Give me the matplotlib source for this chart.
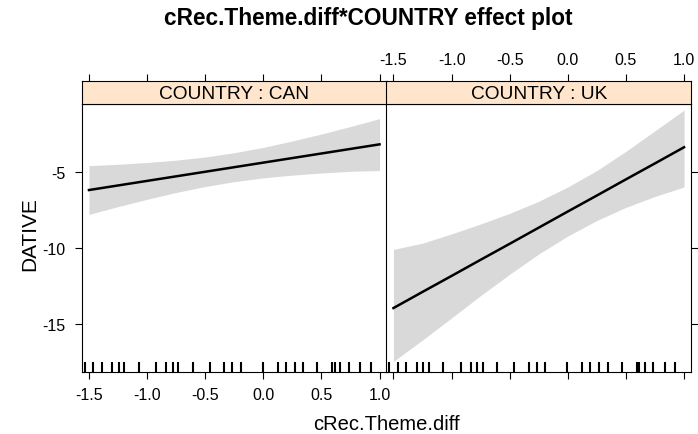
import numpy as np
import matplotlib.pyplot as plt

plt.rcParams['font.family'] = ['Liberation Sans', 'DejaVu Sans']
plt.rcParams['axes.unicode_minus'] = False

# effect estimates on the DATIVE scale, read at these predictor values
x_grid = [-1.5, -1.25, -1.0, -0.75, -0.5, -0.25, 0.0, 0.25, 0.5, 0.75, 1.0]

can_fit = [-6.2, -5.9, -5.6, -5.3, -5.0, -4.7, -4.4, -4.1, -3.8, -3.5, -3.2]
can_upper = [-4.60, -4.51, -4.39, -4.24, -4.03, -3.75, -3.40, -2.98, -2.52,
             -2.03, -1.51]
can_lower = [-7.80, -7.29, -6.81, -6.36, -5.97, -5.65, -5.40, -5.22, -5.08,
             -4.97, -4.92]

uk_fit = [-13.95, -12.89, -11.84, -10.78, -9.73, -8.67, -7.61, -6.56, -5.50,
          -4.45, -3.39]
uk_upper = [-10.10, -9.69, -9.08, -8.43, -7.73, -6.94, -6.00, -4.92, -3.66,
            -2.31, -0.95]
uk_lower = [-17.45, -16.05, -14.60, -13.13, -11.73, -10.40, -9.22, -8.20,
            -7.34, -6.62, -6.00]

# observed cRec.Theme.diff values (rug)
rug_x = [-1.537, -1.463, -1.388, -1.299, -1.244, -1.195, -1.072, -0.922,
         -0.836, -0.779, -0.733, -0.609, -0.460, -0.336, -0.267, -0.193,
         -0.003, 0.124, 0.195, 0.270, 0.342, 0.463, 0.592, 0.615, 0.661,
         0.736, 0.836, 0.925]

xticks = [-1.5, -1.0, -0.5, 0.0, 0.5, 1.0]
xticklabels = ['-1.5', '-1.0', '-0.5', '0.0', '0.5', '1.0']
yticks = [-15, -10, -5]
panels = [('COUNTRY : CAN', can_fit, can_upper, can_lower),
          ('COUNTRY : UK', uk_fit, uk_upper, uk_lower)]

W, H = 698, 435
fig = plt.figure(figsize=(W / 100, H / 100), dpi=100)

xlim = (-1.56, 1.06)
ylim = (-18.15, -0.55)
left0, width = 82, 304.5
bottom, top, strip_top = 373, 105, 82
tick_kw = dict(length=5, width=0.8, color='black', labelsize=11.5)

for i, (title, fit, upper, lower) in enumerate(panels):
    left = left0 + i * width
    ax = fig.add_axes([left / W, (H - bottom) / H, width / W, (bottom - top) / H])
    ax.fill_between(x_grid, lower, upper, color='#d9d9d9', lw=0)
    ax.plot(x_grid, fit, color='black', lw=1.8)
    ax.vlines(rug_x, 0, 0.038, transform=ax.get_xaxis_transform(),
              color='black', lw=1.5)
    ax.set_xlim(*xlim)
    ax.set_ylim(*ylim)
    ax.set_xticks(xticks)
    ax.set_yticks(yticks)
    ax.tick_params(direction='out', pad=7, **tick_kw)
    ax.tick_params(axis='x', top=False, bottom=True, labelbottom=(i == 0),
                   pad=6)
    if i == 0:
        ax.set_xticklabels(xticklabels)
        ax.tick_params(axis='y', left=True, right=False, labelleft=True)
    else:
        ax.tick_params(axis='y', left=False, right=True,
                       labelleft=False, labelright=False)
    for s in ax.spines.values():
        s.set_linewidth(0.8)

    # strip with the panel's factor level; top axis ticks sit above it
    st = fig.add_axes([left / W, (H - top) / H, width / W, (top - strip_top) / H])
    st.set_facecolor('#ffe5cc')
    st.set_xlim(*xlim)
    st.set_yticks([])
    st.set_xticks(xticks)
    st.xaxis.tick_top()
    st.tick_params(axis='x', direction='out', pad=5, **tick_kw)
    if i == 1:
        st.set_xticklabels(xticklabels)
    else:
        st.tick_params(axis='x', labeltop=False)
    for s in st.spines.values():
        s.set_linewidth(0.8)
    st.text(0.5, 0.45, title, transform=st.transAxes, ha='center',
            va='center', fontsize=13.8)

fig.text(368 / W, 1 - 19 / H, 'cRec.Theme.diff*COUNTRY effect plot',
         ha='center', va='center', fontsize=16.3, fontweight='bold')
fig.text(386 / W, 1 - 425 / H, 'cRec.Theme.diff', ha='center', va='center',
         fontsize=14.5)
fig.text(30 / W, 1 - 234 / H, 'DATIVE', ha='center', va='center',
         rotation=90, fontsize=15)

fig.savefig('out.png', dpi=100)
